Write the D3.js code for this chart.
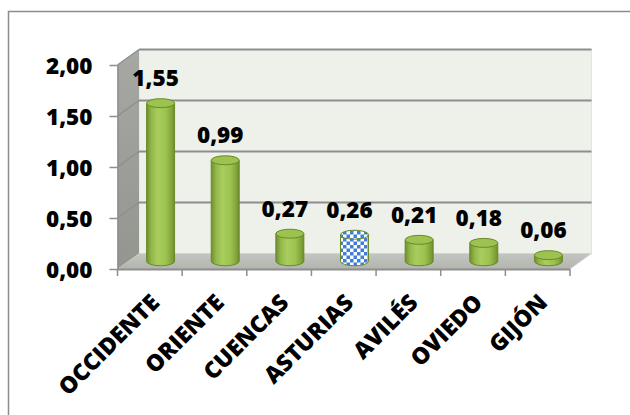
<!DOCTYPE html>
<html><head><meta charset="utf-8">
<script src="https://cdn.jsdelivr.net/npm/d3@7"></script>
<style>
html,body{margin:0;padding:0;background:#fff;}
svg{display:block;}
text{font-family:"Open Sans",sans-serif;font-weight:800;fill:#000;}
</style></head>
<body>
<script>
const categories = ["OCCIDENTE","ORIENTE","CUENCAS","ASTURIAS","AVILÉS","OVIEDO","GIJÓN"];
const values = [1.55, 0.99, 0.27, 0.26, 0.21, 0.18, 0.06];
const patterned = ["ASTURIAS"];
const yTicks = [0, 0.5, 1, 1.5, 2];

const W = 630, H = 415;
const svg = d3.select("body").append("svg").attr("width", W).attr("height", H);
const defs = svg.append("defs");

// geometry
const x0 = 117.5, x1 = 570, yFront0 = 269, yFront2 = 65;
const DX = 21.5, DY = -15.5;
const x = d3.scaleBand().domain(categories).range([x0, x1]);
const y = d3.scaleLinear().domain([0, 2]).range([yFront0, yFront2]);
const fmt = d3.formatLocale({decimal: ",", thousands: ".", grouping: [3], currency: ["", "€"]}).format(".2f");

// gradients
const gBody = defs.append("linearGradient").attr("id", "gBody").attr("x1", 0).attr("x2", 1).attr("y1", 0).attr("y2", 0);
[[0, "#6f8e2e"], [0.18, "#93b94a"], [0.4, "#a9cd5e"], [0.7, "#9cc250"], [0.92, "#7f9f36"], [1, "#6a8a2a"]]
  .forEach(([o, c]) => gBody.append("stop").attr("offset", o).attr("stop-color", c));
const gSide = defs.append("linearGradient").attr("id", "gSide").attr("x1", 0).attr("x2", 0).attr("y1", 0).attr("y2", 1);
[[0, "#a6a9a3"], [1, "#93968f"]].forEach(([o, c]) => gSide.append("stop").attr("offset", o).attr("stop-color", c));
const gFloor = defs.append("linearGradient").attr("id", "gFloor").attr("x1", 0).attr("x2", 0).attr("y1", 0).attr("y2", 1);
[[0, "#c3c5c0"], [1, "#b2b4ae"]].forEach(([o, c]) => gFloor.append("stop").attr("offset", o).attr("stop-color", c));
const pat = defs.append("pattern").attr("id", "checker").attr("patternUnits", "userSpaceOnUse")
  .attr("width", 7).attr("height", 7);
pat.append("rect").attr("width", 7).attr("height", 7).attr("fill", "#ffffff");
pat.append("rect").attr("width", 3.5).attr("height", 3.5).attr("fill", "#3f7fd4");
pat.append("rect").attr("x", 3.5).attr("y", 3.5).attr("width", 3.5).attr("height", 3.5).attr("fill", "#3f7fd4");

// outer frame
svg.append("rect").attr("x", 8.5).attr("y", 11.5).attr("width", 700).attr("height", 500)
  .attr("fill", "none").attr("stroke", "#8c8c8c").attr("stroke-width", 1.5);

// back wall
const yTop = y(2), yBot = y(0);
svg.append("rect").attr("x", x0 + DX).attr("y", yTop + DY).attr("width", x1 - x0).attr("height", yBot - yTop)
  .attr("fill", "#eef1ea").attr("stroke", "#e2e4de").attr("stroke-width", 1);
// side wall
svg.append("path")
  .attr("d", `M${x0},${yTop} L${x0 + DX},${yTop + DY} L${x0 + DX},${yBot + DY} L${x0},${yBot} Z`)
  .attr("fill", "url(#gSide)");
// floor
svg.append("path")
  .attr("d", `M${x0},${yBot} L${x0 + DX},${yBot + DY} L${x1 + DX},${yBot + DY} L${x1},${yBot} Z`)
  .attr("fill", "url(#gFloor)");

// gridlines (back wall + side wall)
const grid = svg.append("g").attr("stroke", "#8e8e8e").attr("fill", "none");
grid.selectAll("line.b").data(yTicks.filter(v => v > 0)).join("line").attr("class", "b")
  .attr("x1", x0 + DX).attr("x2", x1 + DX).attr("y1", v => y(v) + DY).attr("y2", v => y(v) + DY)
  .attr("stroke-width", 2);
grid.selectAll("line.s").data(yTicks.filter(v => v > 0)).join("line").attr("class", "s")
  .attr("x1", x0).attr("x2", x0 + DX).attr("y1", v => y(v)).attr("y2", v => y(v) + DY)
  .attr("stroke-width", 1.5);

// floor front edge + x ticks
svg.append("line").attr("x1", x0).attr("x2", x1).attr("y1", yBot + 0.5).attr("y2", yBot + 0.5)
  .attr("stroke", "#8e8e8e").attr("stroke-width", 2);
svg.append("line").attr("x1", x1).attr("x2", x1 + DX).attr("y1", yBot).attr("y2", yBot + DY)
  .attr("stroke", "#d8d9d6").attr("stroke-width", 1);
const bounds = categories.map(c => x(c)).concat([x1]);
svg.selectAll("line.xt").data(bounds).join("line").attr("class", "xt")
  .attr("x1", d => d).attr("x2", d => d).attr("y1", yBot).attr("y2", yBot + 7)
  .attr("stroke", "#8e8e8e").attr("stroke-width", 1.5);

// y axis
const yAxis = svg.append("g").attr("transform", `translate(${x0},0)`)
  .call(d3.axisLeft(y).tickValues(yTicks).tickFormat(fmt).tickSize(8).tickSizeOuter(0).tickPadding(17));
yAxis.select(".domain").attr("stroke", "#8e8e8e").attr("stroke-width", 1.5);
yAxis.selectAll(".tick line").attr("stroke", "#8e8e8e").attr("stroke-width", 1.5);
yAxis.selectAll(".tick text").attr("font-size", 22.5).attr("font-family", "'Open Sans',sans-serif")
  .attr("font-weight", 800).attr("fill", "#000").attr("dy", "0.36em");

// cylinders
const bw = 28, ry = 4.5;
const bars = svg.append("g");
categories.forEach((c, i) => {
  const v = values[i];
  const cx = x(c) + x.bandwidth() / 2 + DX / 2;
  const yb = y(0) + DY / 2;
  const yt = y(v) + DY / 2;
  const l = cx - bw / 2, r = cx + bw / 2;
  const isPat = patterned.includes(c);
  const g = bars.append("g");
  g.append("path")
    .attr("d", `M${l},${yt} L${l},${yb} A${bw / 2},${ry} 0 0 0 ${r},${yb} L${r},${yt} Z`)
    .attr("fill", isPat ? "url(#checker)" : "url(#gBody)")
    .attr("stroke", "#6a8a2a").attr("stroke-width", 1);
  g.append("ellipse").attr("cx", cx).attr("cy", yt).attr("rx", bw / 2).attr("ry", ry)
    .attr("fill", isPat ? "url(#checker)" : "#9cc24f")
    .attr("stroke", "#6a8a2a").attr("stroke-width", 1);
  svg.append("text").attr("x", cx - 5).attr("y", yt - 17).attr("text-anchor", "middle")
    .attr("font-size", 22.5).text(fmt(v));
});

// category labels
svg.selectAll("text.cat").data(categories).join("text").attr("class", "cat")
  .attr("text-anchor", "end").attr("font-size", 23)
  .attr("transform", d => `translate(${x(d) + x.bandwidth() / 2 - 1},${292}) rotate(-45)`)
  .attr("dy", "0.74em")
  .text(d => d);
</script>
</body></html>
